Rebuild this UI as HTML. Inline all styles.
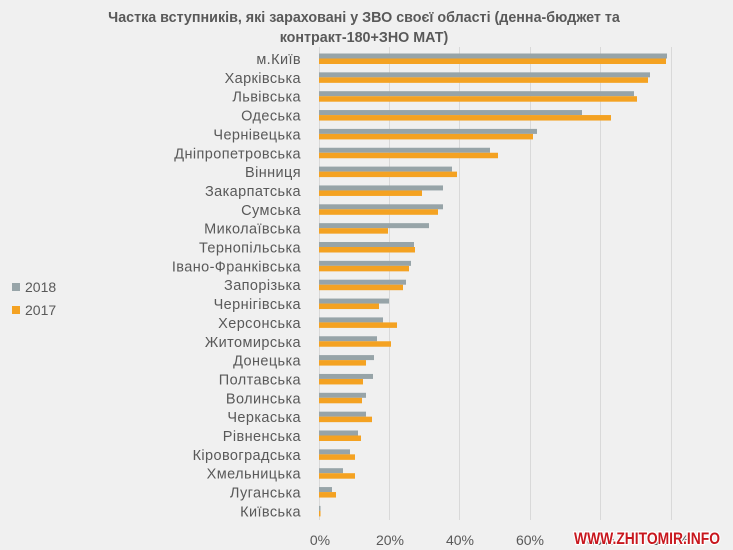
<!DOCTYPE html>
<html><head><meta charset="utf-8"><style>
html,body{margin:0;padding:0;background:#f0f0f0;}
svg{display:block;}
text{font-family:"Liberation Sans","DejaVu Sans",sans-serif;}
</style></head><body>
<svg width="733" height="550" viewBox="0 0 733 550" xmlns="http://www.w3.org/2000/svg">
<rect width="733" height="550" fill="#f0f0f0"/>
<text x="364" y="22" text-anchor="middle" font-size="14.3" font-weight="bold" fill="#595959">Частка вступників, які зараховані у ЗВО своєї області (денна-бюджет та</text>
<text x="364" y="42" text-anchor="middle" font-size="14.3" font-weight="bold" fill="#595959">контракт-180+ЗНО МАТ)</text>
<g stroke="#d9d9d9" stroke-width="1">
<line x1="319.5" y1="47" x2="319.5" y2="520"/>
<line x1="389.5" y1="47" x2="389.5" y2="520"/>
<line x1="459.5" y1="47" x2="459.5" y2="520"/>
<line x1="530.5" y1="47" x2="530.5" y2="520"/>
<line x1="600.5" y1="47" x2="600.5" y2="520"/>
<line x1="671.5" y1="47" x2="671.5" y2="520"/>
</g>
<g fill="#97a4a8">
<rect x="319" y="53.5" width="348" height="5"/>
<rect x="319" y="72.35" width="331" height="5"/>
<rect x="319" y="91.2" width="315" height="5"/>
<rect x="319" y="110.05" width="263" height="5"/>
<rect x="319" y="128.9" width="218" height="5"/>
<rect x="319" y="147.75" width="171" height="5"/>
<rect x="319" y="166.6" width="133" height="5"/>
<rect x="319" y="185.45" width="124" height="5"/>
<rect x="319" y="204.3" width="124" height="5"/>
<rect x="319" y="223.15" width="110" height="5"/>
<rect x="319" y="242" width="95" height="5"/>
<rect x="319" y="260.85" width="92" height="5"/>
<rect x="319" y="279.7" width="87" height="5"/>
<rect x="319" y="298.55" width="70" height="5"/>
<rect x="319" y="317.4" width="64" height="5"/>
<rect x="319" y="336.25" width="58" height="5"/>
<rect x="319" y="355.1" width="55" height="5"/>
<rect x="319" y="373.95" width="54" height="5"/>
<rect x="319" y="392.8" width="47" height="5"/>
<rect x="319" y="411.65" width="47" height="5"/>
<rect x="319" y="430.5" width="39" height="5"/>
<rect x="319" y="449.35" width="31" height="5"/>
<rect x="319" y="468.2" width="24" height="5"/>
<rect x="319" y="487.05" width="13" height="5"/>
<rect x="319" y="505.9" width="1.5" height="5"/>
</g>
<g fill="#f4a222">
<rect x="319" y="58.5" width="347" height="5.5"/>
<rect x="319" y="77.35" width="329" height="5.5"/>
<rect x="319" y="96.2" width="318" height="5.5"/>
<rect x="319" y="115.05" width="292" height="5.5"/>
<rect x="319" y="133.9" width="214" height="5.5"/>
<rect x="319" y="152.75" width="179" height="5.5"/>
<rect x="319" y="171.6" width="138" height="5.5"/>
<rect x="319" y="190.45" width="103" height="5.5"/>
<rect x="319" y="209.3" width="119" height="5.5"/>
<rect x="319" y="228.15" width="69" height="5.5"/>
<rect x="319" y="247" width="96" height="5.5"/>
<rect x="319" y="265.85" width="90" height="5.5"/>
<rect x="319" y="284.7" width="84" height="5.5"/>
<rect x="319" y="303.55" width="60" height="5.5"/>
<rect x="319" y="322.4" width="78" height="5.5"/>
<rect x="319" y="341.25" width="72" height="5.5"/>
<rect x="319" y="360.1" width="47" height="5.5"/>
<rect x="319" y="378.95" width="44" height="5.5"/>
<rect x="319" y="397.8" width="43" height="5.5"/>
<rect x="319" y="416.65" width="53" height="5.5"/>
<rect x="319" y="435.5" width="42" height="5.5"/>
<rect x="319" y="454.35" width="36" height="5.5"/>
<rect x="319" y="473.2" width="36" height="5.5"/>
<rect x="319" y="492.05" width="17" height="5.5"/>
<rect x="319" y="510.9" width="1.5" height="5.5"/>
</g>
<g font-size="14.5" letter-spacing="0.4" fill="#595959" text-anchor="end">
<text x="301" y="64">м.Київ</text>
<text x="301" y="82.85">Харківська</text>
<text x="301" y="101.7">Львівська</text>
<text x="301" y="120.55">Одеська</text>
<text x="301" y="139.4">Чернівецька</text>
<text x="301" y="158.25">Дніпропетровська</text>
<text x="301" y="177.1">Вінниця</text>
<text x="301" y="195.95">Закарпатська</text>
<text x="301" y="214.8">Сумська</text>
<text x="301" y="233.65">Миколаївська</text>
<text x="301" y="252.5">Тернопільська</text>
<text x="301" y="271.35">Івано-Франківська</text>
<text x="301" y="290.2">Запорізька</text>
<text x="301" y="309.05">Чернігівська</text>
<text x="301" y="327.9">Херсонська</text>
<text x="301" y="346.75">Житомирська</text>
<text x="301" y="365.6">Донецька</text>
<text x="301" y="384.45">Полтавська</text>
<text x="301" y="403.3">Волинська</text>
<text x="301" y="422.15">Черкаська</text>
<text x="301" y="441">Рівненська</text>
<text x="301" y="459.85">Кіровоградська</text>
<text x="301" y="478.7">Хмельницька</text>
<text x="301" y="497.55">Луганська</text>
<text x="301" y="516.4">Київська</text>
</g>
<g font-size="14" fill="#595959" text-anchor="middle">
<text x="320" y="545">0%</text>
<text x="390" y="545">20%</text>
<text x="460" y="545">40%</text>
<text x="530" y="545">60%</text>
<text x="601" y="545">80%</text>
<text x="671" y="545">100%</text>
</g>
<rect x="12" y="283" width="8" height="8" fill="#97a4a8"/>
<text x="25" y="292" font-size="14" fill="#595959">2018</text>
<rect x="12" y="306" width="8" height="8" fill="#f4a222"/>
<text x="25" y="315" font-size="14" fill="#595959">2017</text>
<text x="647" y="544" text-anchor="middle" font-size="17" font-weight="bold" fill="#c8171e" stroke="#ffffff" stroke-width="2.5" paint-order="stroke" textLength="146" lengthAdjust="spacingAndGlyphs">WWW.ZHITOMIR.INFO</text>
</svg>
</body></html>
